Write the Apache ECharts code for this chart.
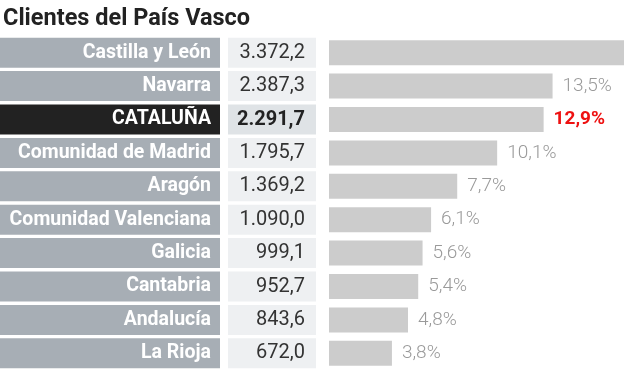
<!DOCTYPE html>
<html>
<head>
<meta charset="utf-8">
<script src="https://cdn.jsdelivr.net/npm/echarts@6/dist/echarts.min.js"></script>
<style>
  html, body { margin: 0; padding: 0; background: #ffffff; }
  #chart { width: 624px; height: 385px; }
</style>
</head>
<body>
<div id="chart"></div>
<script>
const titleText = 'Clientes del País Vasco';
const categories = ['Castilla y León', 'Navarra', 'CATALUÑA', 'Comunidad de Madrid', 'Aragón',
  'Comunidad Valenciana', 'Galicia', 'Cantabria', 'Andalucía', 'La Rioja'];
const clientes = [3372.2, 2387.3, 2291.7, 1795.7, 1369.2, 1090.0, 999.1, 952.7, 843.6, 672.0];
const percentages = [null, 13.5, 12.9, 10.1, 7.7, 6.1, 5.6, 5.4, 4.8, 3.8];
const highlighted = 'CATALUÑA';

const FONT = 'Roboto, "Open Sans", sans-serif';

function fmtNum(v) {
  const parts = v.toFixed(1).split('.');
  const intPart = parts[0].replace(/\B(?=(\d{3})+(?!\d))/g, '.');
  return intPart + ',' + parts[1];
}
function fmtPct(v) {
  return v == null ? '' : v.toFixed(1).replace('.', ',') + '%';
}

const chart = echarts.init(document.getElementById('chart'), null, { renderer: 'canvas' });

const barData = clientes.map((v, i) => ({
  value: v,
  label: categories[i] === highlighted
    ? { color: '#ee1111', fontWeight: 'bold' }
    : {}
}));

chart.setOption({
  animation: false,
  title: {
    text: titleText,
    left: 3,
    top: 7,
    padding: 0,
    textStyle: { fontFamily: FONT, fontWeight: 'bold', fontSize: 23.5, color: '#222222' }
  },
  grid: { left: 329, top: 36, width: 295, height: 334, outerBoundsMode: 'none' },
  xAxis: {
    type: 'value', min: 0, max: 3150,
    show: false
  },
  yAxis: {
    type: 'category',
    inverse: true,
    data: categories,
    axisLine: { show: false },
    axisTick: { show: false },
    splitLine: { show: false },
    axisLabel: {
      margin: 13,
      formatter: function (name, idx) {
        const val = fmtNum(clientes[idx]);
        if (name === highlighted) {
          return '{labH|' + name + '}{sp|}{valH|' + val + '}';
        }
        return '{lab|' + name + '}{sp|}{val|' + val + '}';
      },
      rich: {
        lab: {
          width: 211, height: 30, align: 'right', padding: [0, 9, 0, 0],
          backgroundColor: '#a7aeb5', color: '#ffffff',
          fontFamily: FONT, fontWeight: 'bold', fontSize: 19.5
        },
        labH: {
          width: 211, height: 30, align: 'right', padding: [0, 9, 0, 0],
          backgroundColor: '#222222', color: '#ffffff',
          fontFamily: FONT, fontWeight: 'bold', fontSize: 19.5
        },
        sp: { width: 8, height: 30 },
        val: {
          width: 77, height: 30, align: 'right', padding: [0, 11, 0, 0],
          backgroundColor: '#eef0f2', color: '#333333',
          fontFamily: FONT, fontSize: 20
        },
        valH: {
          width: 77, height: 30, align: 'right', padding: [0, 11, 0, 0],
          backgroundColor: '#dfe3e6', color: '#222222',
          fontFamily: FONT, fontWeight: 'bold', fontSize: 20
        }
      }
    }
  },
  series: [{
    type: 'bar',
    data: barData,
    barWidth: 25,
    itemStyle: { color: '#cccccc' },
    label: {
      show: true,
      position: 'right',
      distance: 10,
      color: '#9a9a9a',
      fontFamily: FONT,
      fontWeight: 300,
      fontSize: 19,
      formatter: function (p) { return fmtPct(percentages[p.dataIndex]); }
    }
  }]
});
</script>
</body>
</html>
